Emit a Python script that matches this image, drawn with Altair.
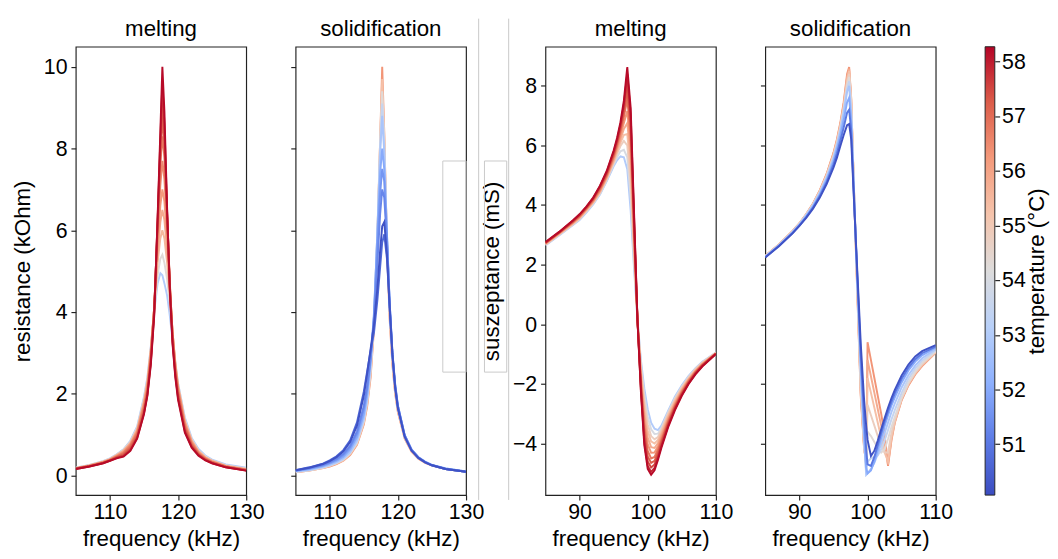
import altair as alt
import pandas as pd

FONT = "Liberation Sans"

# ---------------- colour scale (coolwarm) ----------------
T_MIN = 50.07
T_MAX = 58.27
cmap_stops = [50.07, 51.095, 52.12, 53.145, 54.17, 55.195, 56.22, 57.245, 58.27]
cmap_colors = ["#3b4cc0", "#5d7ce6", "#8db0fe", "#b8d0f9", "#dddcdc",
               "#f5c4ac", "#f49a7b", "#dc5d4a", "#b40426"]
cbar_ticks = [51, 52, 53, 54, 55, 56, 57, 58]

# ---------------- resistance (kOhm) ----------------
freq_res = [105, 107, 109, 110, 111, 112, 113, 114, 115, 115.5, 116, 116.5, 117, 117.4,
            117.7, 118.0, 118.4, 118.8, 119.2, 119.6, 120, 121, 122, 123, 124, 125, 127, 130]

res_melt_temps = [53.0, 54.3, 55.5, 55.8, 56.2, 56.5, 56.8, 57.1, 57.4, 57.8, 58.2]
res_melt_530 = [0.19, 0.26, 0.35, 0.42, 0.52, 0.64, 0.85, 1.2, 1.92, 2.4, 3.15, 4.0, 4.7, 4.95,
                4.9, 4.7, 4.4, 3.9, 3.3, 2.75, 2.25, 1.42, 0.92, 0.65, 0.49, 0.39, 0.27, 0.19]
res_melt_543 = [0.19, 0.25, 0.35, 0.41, 0.51, 0.63, 0.83, 1.17, 1.88, 2.35, 3.1, 4.0, 4.9, 5.3,
                5.4, 5.2, 4.8, 4.2, 3.45, 2.8, 2.25, 1.38, 0.89, 0.62, 0.47, 0.37, 0.25, 0.17]
res_melt_555 = [0.18, 0.25, 0.34, 0.40, 0.50, 0.61, 0.80, 1.13, 1.82, 2.3, 3.1, 4.1, 5.2, 5.8,
                6.0, 5.8, 5.2, 4.4, 3.5, 2.75, 2.2, 1.33, 0.86, 0.60, 0.45, 0.36, 0.24, 0.16]
res_melt_558 = [0.18, 0.24, 0.33, 0.39, 0.49, 0.60, 0.78, 1.10, 1.78, 2.25, 3.05, 4.1, 5.4, 6.2,
                6.5, 6.25, 5.5, 4.5, 3.5, 2.72, 2.17, 1.30, 0.84, 0.58, 0.44, 0.35, 0.23, 0.15]
res_melt_562 = [0.18, 0.24, 0.33, 0.39, 0.48, 0.58, 0.76, 1.08, 1.75, 2.2, 3.0, 4.1, 5.6, 6.6,
                7.0, 6.7, 5.8, 4.6, 3.5, 2.7, 2.15, 1.28, 0.82, 0.57, 0.43, 0.34, 0.23, 0.15]
res_melt_565 = [0.17, 0.24, 0.32, 0.38, 0.47, 0.56, 0.74, 1.05, 1.70, 2.15, 2.95, 4.1, 5.8, 7.1,
                7.7, 7.25, 6.05, 4.65, 3.45, 2.65, 2.1, 1.24, 0.80, 0.55, 0.42, 0.33, 0.22, 0.14]
res_melt_568 = [0.17, 0.23, 0.32, 0.38, 0.46, 0.55, 0.72, 1.02, 1.65, 2.1, 2.9, 4.1, 6.0, 7.6,
                8.3, 7.8, 6.3, 4.7, 3.4, 2.6, 2.05, 1.2, 0.77, 0.54, 0.41, 0.33, 0.22, 0.14]
res_melt_571 = [0.17, 0.23, 0.31, 0.37, 0.45, 0.52, 0.68, 0.98, 1.60, 2.05, 2.85, 4.05, 6.1, 7.8,
                8.8, 8.05, 6.35, 4.65, 3.35, 2.55, 2.0, 1.16, 0.75, 0.52, 0.40, 0.32, 0.21, 0.13]
res_melt_574 = [0.17, 0.23, 0.31, 0.37, 0.44, 0.50, 0.65, 0.95, 1.55, 2.0, 2.8, 4.0, 6.2, 8.0,
                9.2, 8.3, 6.4, 4.6, 3.3, 2.5, 1.95, 1.12, 0.72, 0.51, 0.39, 0.31, 0.21, 0.13]
res_melt_578 = [0.16, 0.22, 0.30, 0.36, 0.43, 0.48, 0.62, 0.92, 1.52, 1.97, 2.75, 3.95, 6.25, 8.2,
                9.6, 8.6, 6.45, 4.55, 3.25, 2.45, 1.9, 1.08, 0.70, 0.50, 0.38, 0.30, 0.20, 0.12]
res_melt_582 = [0.16, 0.22, 0.30, 0.36, 0.42, 0.46, 0.60, 0.90, 1.50, 1.95, 2.70, 3.90, 6.30, 8.40,
                10.00, 8.90, 6.50, 4.50, 3.20, 2.40, 1.85, 1.05, 0.68, 0.48, 0.37, 0.30, 0.20, 0.12]
res_melt = [res_melt_530, res_melt_543, res_melt_555, res_melt_558, res_melt_562, res_melt_565,
            res_melt_568, res_melt_571, res_melt_574, res_melt_578, res_melt_582]

res_sol_temps = [56.3, 55.3, 54.3, 53.5, 52.8, 52.0, 51.6, 51.3, 50.7, 50.2]
res_sol_563 = [0.08, 0.12, 0.18, 0.22, 0.28, 0.36, 0.50, 0.75, 1.25, 1.7, 2.4, 3.6, 5.8, 8.2,
               10.0, 8.4, 5.6, 3.8, 2.7, 2.0, 1.55, 0.9, 0.58, 0.41, 0.31, 0.24, 0.16, 0.09]
res_sol_553 = [0.08, 0.12, 0.18, 0.23, 0.29, 0.37, 0.52, 0.77, 1.28, 1.75, 2.47, 3.7, 5.9, 8.2,
               9.7, 8.3, 5.7, 3.9, 2.77, 2.05, 1.58, 0.92, 0.60, 0.42, 0.32, 0.25, 0.16, 0.09]
res_sol_543 = [0.09, 0.13, 0.19, 0.24, 0.30, 0.39, 0.54, 0.80, 1.32, 1.8, 2.55, 3.8, 6.0, 8.2,
               9.4, 8.2, 5.8, 4.0, 2.85, 2.1, 1.62, 0.94, 0.61, 0.43, 0.32, 0.25, 0.16, 0.09]
res_sol_535 = [0.09, 0.13, 0.20, 0.25, 0.31, 0.40, 0.56, 0.83, 1.36, 1.85, 2.62, 3.85, 6.0, 8.05,
               9.1, 8.05, 5.85, 4.05, 2.9, 2.15, 1.65, 0.95, 0.62, 0.44, 0.33, 0.25, 0.17, 0.10]
res_sol_528 = [0.10, 0.14, 0.21, 0.26, 0.33, 0.42, 0.58, 0.86, 1.4, 1.9, 2.7, 3.9, 6.0, 7.9,
               8.8, 7.9, 5.9, 4.1, 2.95, 2.2, 1.68, 0.97, 0.63, 0.44, 0.33, 0.26, 0.17, 0.10]
res_sol_520 = [0.11, 0.16, 0.23, 0.29, 0.36, 0.46, 0.64, 0.94, 1.5, 2.0, 2.8, 4.0, 5.9, 7.4,
               8.0, 7.5, 5.9, 4.2, 3.0, 2.25, 1.72, 0.99, 0.64, 0.45, 0.34, 0.26, 0.17, 0.10]
res_sol_516 = [0.12, 0.17, 0.25, 0.31, 0.39, 0.50, 0.69, 1.02, 1.62, 2.12, 2.85, 3.9, 5.6, 6.9,
               7.5, 7.2, 5.8, 4.2, 3.0, 2.22, 1.7, 0.98, 0.63, 0.44, 0.33, 0.25, 0.16, 0.09]
res_sol_513 = [0.12, 0.18, 0.26, 0.33, 0.41, 0.53, 0.73, 1.08, 1.7, 2.2, 2.9, 3.8, 5.2, 6.4,
               7.0, 6.8, 5.7, 4.2, 3.0, 2.2, 1.7, 0.98, 0.63, 0.44, 0.33, 0.25, 0.16, 0.09]
res_sol_507 = [0.13, 0.20, 0.29, 0.37, 0.47, 0.62, 0.86, 1.3, 2.05, 2.55, 3.05, 3.5, 4.3, 5.1,
               5.7, 5.9, 5.3, 4.1, 2.95, 2.15, 1.65, 0.95, 0.61, 0.43, 0.32, 0.25, 0.16, 0.09]
res_sol_502 = [0.13, 0.19, 0.28, 0.35, 0.45, 0.59, 0.82, 1.22, 1.95, 2.5, 3.1, 3.7, 4.6, 5.5,
               6.1, 6.2, 5.4, 4.1, 2.95, 2.15, 1.65, 0.95, 0.61, 0.43, 0.32, 0.25, 0.16, 0.09]
res_sol = [res_sol_563, res_sol_553, res_sol_543, res_sol_535, res_sol_528, res_sol_520,
           res_sol_516, res_sol_513, res_sol_507, res_sol_502]

# ---------------- susceptance (mS) ----------------
freq_sus_melt = [85, 87, 89, 90, 91, 92, 93, 94, 95, 95.5, 96, 96.5, 97, 97.5, 98, 98.5, 99,
                 99.5, 100, 100.5, 101, 101.5, 102, 103, 104, 105, 106, 107, 108, 110]
sus_melt_temps = [53.0, 54.0, 54.8, 55.3, 55.8, 56.3, 56.8, 57.2, 57.5, 57.9, 58.2]
sus_melt_530 = [2.64, 2.98, 3.32, 3.5, 3.75, 4.02, 4.35, 4.8, 5.3, 5.5, 5.63, 5.6, 5.2, 3.8, 1.85,
                0.15, -1.2, -2.15, -2.85, -3.3, -3.5, -3.55, -3.4, -2.9, -2.42, -2.05, -1.73,
                -1.47, -1.26, -0.95]
sus_melt_540 = [2.66, 3.0, 3.34, 3.52, 3.78, 4.05, 4.38, 4.84, 5.36, 5.6, 5.8, 5.85, 5.6, 4.25,
                2.05, 0.15, -1.32, -2.38, -3.1, -3.52, -3.68, -3.67, -3.48, -2.95, -2.47, -2.09,
                -1.76, -1.49, -1.27, -0.95]
sus_melt_548 = [2.67, 3.01, 3.35, 3.54, 3.8, 4.07, 4.41, 4.87, 5.42, 5.72, 5.98, 6.15, 6.0, 4.7,
                2.3, 0.14, -1.45, -2.6, -3.35, -3.75, -3.86, -3.78, -3.55, -3.0, -2.52, -2.12,
                -1.79, -1.51, -1.29, -0.96]
sus_melt_553 = [2.68, 3.02, 3.37, 3.56, 3.82, 4.09, 4.43, 4.9, 5.46, 5.78, 6.09, 6.35, 6.38, 5.15,
                2.5, 0.13, -1.57, -2.8, -3.57, -3.93, -4.0, -3.88, -3.62, -3.06, -2.57, -2.16,
                -1.82, -1.53, -1.31, -0.96]
sus_melt_558 = [2.7, 3.04, 3.39, 3.58, 3.84, 4.11, 4.46, 4.93, 5.5, 5.85, 6.2, 6.55, 6.75, 5.6,
                2.7, 0.13, -1.7, -3.0, -3.8, -4.12, -4.15, -3.98, -3.7, -3.12, -2.62, -2.2,
                -1.85, -1.56, -1.33, -0.97]
sus_melt_563 = [2.71, 3.05, 3.4, 3.6, 3.86, 4.13, 4.49, 4.96, 5.56, 5.92, 6.32, 6.75, 7.15, 5.95,
                2.9, 0.13, -1.82, -3.22, -4.02, -4.31, -4.3, -4.09, -3.79, -3.18, -2.67, -2.24,
                -1.87, -1.58, -1.34, -0.97]
sus_melt_568 = [2.72, 3.06, 3.42, 3.62, 3.88, 4.16, 4.53, 5.0, 5.62, 6.0, 6.45, 6.95, 7.55, 6.3,
                3.1, 0.13, -1.95, -3.45, -4.25, -4.5, -4.45, -4.2, -3.88, -3.25, -2.72, -2.28,
                -1.9, -1.6, -1.36, -0.98]
sus_melt_572 = [2.73, 3.07, 3.44, 3.64, 3.9, 4.19, 4.57, 5.04, 5.68, 6.07, 6.54, 7.1, 7.85, 6.55,
                3.25, 0.12, -2.02, -3.62, -4.43, -4.65, -4.58, -4.3, -3.95, -3.3, -2.76, -2.31,
                -1.93, -1.62, -1.37, -0.98]
sus_melt_575 = [2.74, 3.08, 3.45, 3.66, 3.92, 4.21, 4.6, 5.08, 5.73, 6.13, 6.62, 7.25, 8.15, 6.8,
                3.4, 0.12, -2.1, -3.8, -4.6, -4.8, -4.7, -4.4, -4.02, -3.35, -2.8, -2.34,
                -1.96, -1.64, -1.39, -0.99]
sus_melt_579 = [2.75, 3.09, 3.47, 3.68, 3.94, 4.23, 4.63, 5.12, 5.78, 6.19, 6.7, 7.38, 8.4, 7.05,
                3.55, 0.12, -2.2, -3.95, -4.75, -4.95, -4.82, -4.48, -4.09, -3.4, -2.84, -2.37,
                -1.98, -1.66, -1.4, -0.99]
sus_melt_582 = [2.76, 3.1, 3.48, 3.69, 3.95, 4.25, 4.65, 5.15, 5.83, 6.25, 6.78, 7.5, 8.63, 7.25,
                3.7, 0.12, -2.26, -4.05, -4.85, -5.05, -4.9, -4.55, -4.15, -3.45, -2.88, -2.4,
                -2.0, -1.68, -1.42, -1.0]
sus_melt = [sus_melt_530, sus_melt_540, sus_melt_548, sus_melt_553, sus_melt_558, sus_melt_563,
            sus_melt_568, sus_melt_572, sus_melt_575, sus_melt_579, sus_melt_582]

freq_sus_sol = [85, 87, 89, 90, 91, 92, 93, 94, 95, 95.5, 96, 96.5, 97, 97.3, 97.6, 98, 98.5, 99,
                99.5, 99.8, 100, 100.5, 101, 101.5, 102, 102.5, 103, 103.5, 104, 105, 106, 107,
                108, 110]
sus_sol_temps = [56.3, 55.8, 55.3, 54.8, 54.3, 53.5, 52.8, 52.0, 51.0, 50.2]
sus_sol_563 = [2.3, 2.68, 3.13, 3.39, 3.7, 4.05, 4.5, 5.05, 5.75, 6.2, 6.75, 7.45, 8.4, 8.63, 7.6,
               4.5, 1.0, -2.4, -4.2, -4.6, -0.6, -1.2, -1.8, -2.4, -3.0, -3.7, -4.75, -3.9, -3.3,
               -2.55, -2.05, -1.68, -1.4, -0.95]
sus_sol_558 = [2.3, 2.68, 3.12, 3.38, 3.69, 4.04, 4.48, 5.02, 5.72, 6.16, 6.7, 7.38, 8.3, 8.57,
               7.55, 4.55, 1.1, -2.3, -4.15, -4.65, -1.2, -1.75, -2.3, -2.85, -3.4, -4.0, -4.7,
               -3.85, -3.28, -2.52, -2.02, -1.66, -1.38, -0.94]
sus_sol_553 = [2.29, 2.67, 3.12, 3.38, 3.68, 4.03, 4.46, 5.0, 5.68, 6.12, 6.65, 7.3, 8.2, 8.5, 7.5,
               4.6, 1.2, -2.2, -4.1, -4.7, -1.8, -2.3, -2.8, -3.3, -3.8, -4.3, -4.6, -3.8, -3.25,
               -2.5, -2.0, -1.64, -1.36, -0.93]
sus_sol_548 = [2.29, 2.67, 3.11, 3.37, 3.67, 4.02, 4.45, 4.98, 5.65, 6.08, 6.61, 7.25, 8.1, 8.4,
               7.4, 4.6, 1.25, -2.1, -4.05, -4.75, -2.7, -3.05, -3.4, -3.75, -4.05, -4.3, -4.3,
               -3.65, -3.18, -2.48, -1.98, -1.61, -1.33, -0.92]
sus_sol_543 = [2.28, 2.66, 3.11, 3.37, 3.67, 4.01, 4.44, 4.96, 5.62, 6.05, 6.57, 7.2, 8.0, 8.3, 7.3,
               4.6, 1.3, -2.0, -4.0, -4.8, -3.6, -3.75, -3.95, -4.15, -4.3, -4.2, -3.85, -3.45,
               -3.1, -2.45, -1.95, -1.58, -1.3, -0.9]
sus_sol_535 = [2.27, 2.65, 3.1, 3.36, 3.66, 4.0, 4.42, 4.93, 5.58, 6.0, 6.52, 7.14, 7.9, 8.15,
               7.15, 4.55, 1.35, -1.7, -3.95, -4.95, -4.6, -4.5, -4.45, -4.4, -4.2, -3.9, -3.55,
               -3.2, -2.88, -2.3, -1.83, -1.48, -1.22, -0.87]
sus_sol_528 = [2.27, 2.65, 3.1, 3.35, 3.65, 3.98, 4.4, 4.9, 5.55, 5.97, 6.48, 7.08, 7.8, 8.0, 7.0,
               4.5, 1.4, -1.5, -3.9, -5.05, -5.0, -4.85, -4.65, -4.35, -4.0, -3.65, -3.3, -2.95,
               -2.65, -2.12, -1.7, -1.38, -1.14, -0.83]
sus_sol_520 = [2.26, 2.64, 3.08, 3.33, 3.62, 3.95, 4.35, 4.84, 5.46, 5.86, 6.32, 6.85, 7.45, 7.6,
               6.8, 4.4, 1.5, -1.3, -3.6, -4.8, -5.0, -4.9, -4.6, -4.2, -3.8, -3.42, -3.06,
               -2.73, -2.45, -1.95, -1.55, -1.25, -1.04, -0.78]
sus_sol_510 = [2.25, 2.63, 3.06, 3.31, 3.59, 3.91, 4.3, 4.77, 5.36, 5.72, 6.15, 6.6, 7.1, 7.2,
               6.5, 4.3, 1.6, -1.0, -3.1, -4.2, -4.7, -4.75, -4.45, -4.05, -3.65, -3.27, -2.92,
               -2.6, -2.32, -1.83, -1.45, -1.17, -0.97, -0.75]
sus_sol_502 = [2.24, 2.62, 3.05, 3.3, 3.57, 3.88, 4.25, 4.7, 5.25, 5.58, 5.97, 6.35, 6.68, 6.72,
               6.2, 4.2, 1.76, -0.64, -2.56, -3.4, -3.88, -4.42, -4.24, -3.9, -3.52, -3.15, -2.8,
               -2.48, -2.2, -1.72, -1.35, -1.08, -0.9, -0.7]
sus_sol = [sus_sol_563, sus_sol_558, sus_sol_553, sus_sol_548, sus_sol_543, sus_sol_535,
           sus_sol_528, sus_sol_520, sus_sol_510, sus_sol_502]

# axis settings
res_xdomain = [105, 130]
res_xticks = [110, 120, 130]
res_ydomain = [-0.48, 10.49]
res_yticks = [0, 2, 4, 6, 8, 10]
sus_xdomain = [85, 110]
sus_xticks = [90, 100, 110]
sus_ydomain = [-5.73, 9.31]
sus_yticks = [-4, -2, 0, 2, 4, 6, 8]

PW = 176
PH = 463
GREY = "#c8c8c8"
TITLE_OFFSET = 6
VLINE_TOP = -29


def frame(freqs, temps, curves, ascending):
    pairs = sorted(zip(temps, curves), key=lambda p: p[0], reverse=not ascending)
    rows = []
    for k, (t, vals) in enumerate(pairs):
        for f, v in zip(freqs, vals):
            rows.append({"f": f, "v": v, "T": t, "seq": k})
    return pd.DataFrame(rows)


color_scale = alt.Scale(domain=cmap_stops, range=cmap_colors, interpolate="rgb")
one = pd.DataFrame({"k": [0]})


def title_params(text, offset=TITLE_OFFSET):
    return alt.TitleParams(text=text, fontSize=23, font=FONT, fontWeight="normal",
                           offset=offset, anchor="middle", color="#000000", frame="group")


def panel(df, title, xdom, xticks, ydom, yticks, ytitle, deco, offset=TITLE_OFFSET):
    if ytitle:
        yaxis = alt.Axis(values=yticks, title=ytitle, tickSize=5, labelPadding=4, titlePadding=9)
    else:
        yaxis = alt.Axis(values=yticks, title=None, labels=False, tickSize=5)
    lines = alt.Chart(df).mark_line(strokeWidth=2, clip=True).encode(
        x=alt.X("f:Q", scale=alt.Scale(domain=xdom, nice=False, zero=False),
                axis=alt.Axis(values=xticks, title="frequency (kHz)", labelFlush=False,
                              tickSize=5, labelPadding=2, titlePadding=6)),
        y=alt.Y("v:Q", scale=alt.Scale(domain=ydom, nice=False, zero=False), axis=yaxis),
        color=alt.Color("T:Q", scale=color_scale, legend=None),
        detail="seq:N",
    )
    return alt.layer(lines, *deco).properties(width=PW, height=PH,
                                              title=title_params(title, offset))


# faint grey frames visible in the reference figure
side_box = alt.Chart(one).mark_rect(fillOpacity=0, stroke=GREY, strokeWidth=1).encode(
    x=alt.value(PW - 24), x2=alt.value(PW), y=alt.value(118), y2=alt.value(336))
label_box = alt.Chart(one).mark_rect(fillOpacity=0, stroke=GREY, strokeWidth=1).encode(
    x=alt.value(-63), x2=alt.value(-40), y=alt.value(118), y2=alt.value(336))
vline_a = alt.Chart(one).mark_rule(color=GREY, strokeWidth=1).encode(
    x=alt.value(-69), y=alt.value(VLINE_TOP), y2=alt.value(PH + 5))
vline_b = alt.Chart(one).mark_rule(color=GREY, strokeWidth=1).encode(
    x=alt.value(-38), y=alt.value(VLINE_TOP), y2=alt.value(PH + 5))

p1 = panel(frame(freq_res, res_melt_temps, res_melt, True), "melting",
           res_xdomain, res_xticks, res_ydomain, res_yticks, "resistance (kOhm)", [])
p2 = panel(frame(freq_res, res_sol_temps, res_sol, False), "solidification",
           res_xdomain, res_xticks, res_ydomain, res_yticks, None, [side_box])
# the grey rules reach above the plot, so the title offset is reduced by that much
p3 = panel(frame(freq_sus_melt, sus_melt_temps, sus_melt, True), "melting",
           sus_xdomain, sus_xticks, sus_ydomain, sus_yticks, "suszeptance (mS)",
           [vline_a, vline_b, label_box], offset=TITLE_OFFSET + VLINE_TOP)
p4 = panel(frame(freq_sus_sol, sus_sol_temps, sus_sol, False), "solidification",
           sus_xdomain, sus_xticks, sus_ydomain, sus_yticks, None, [])

# colour bar
grad = alt.LinearGradient(
    gradient="linear",
    stops=[alt.GradientStop(color=c, offset=(s - T_MIN) / (T_MAX - T_MIN))
           for s, c in zip(cmap_stops, cmap_colors)],
    x1=0, x2=0, y1=1, y2=0,
)
cb_df = pd.DataFrame({"lo": [T_MIN], "hi": [T_MAX]})
cbar = alt.Chart(cb_df).mark_rect(fill=grad, stroke="#222222", strokeWidth=1).encode(
    y=alt.Y("hi:Q", scale=alt.Scale(domain=[T_MIN, T_MAX], nice=False, zero=False),
            axis=alt.Axis(orient="right", values=cbar_ticks, title="temperature (°C)",
                          titleAngle=270, titleBaseline="top", tickSize=5,
                          labelPadding=2, titlePadding=1)),
    y2="lo:Q",
    x=alt.value(6),
    x2=alt.value(16),
).properties(width=16, height=PH, title=title_params(" "),
             view=alt.ViewBackground(stroke="transparent"))

left = alt.hconcat(p1, p2, spacing=25)
right = alt.hconcat(p3, p4, cbar, spacing=25)
chart = alt.hconcat(left, right, spacing=-8).properties(
    padding={"left": 3, "top": 0, "right": 0, "bottom": 0}
).configure(font=FONT).configure_view(
    stroke="#222222", strokeWidth=1.2
).configure_axis(
    domain=False, grid=False, tickColor="#222222", tickWidth=1.2,
    labelFont=FONT, labelFontSize=22, labelColor="#000000",
    titleFont=FONT, titleFontSize=23, titleFontWeight="normal", titleColor="#000000",
)

chart.save("out.html", embed_options={"renderer": "svg", "actions": False})
